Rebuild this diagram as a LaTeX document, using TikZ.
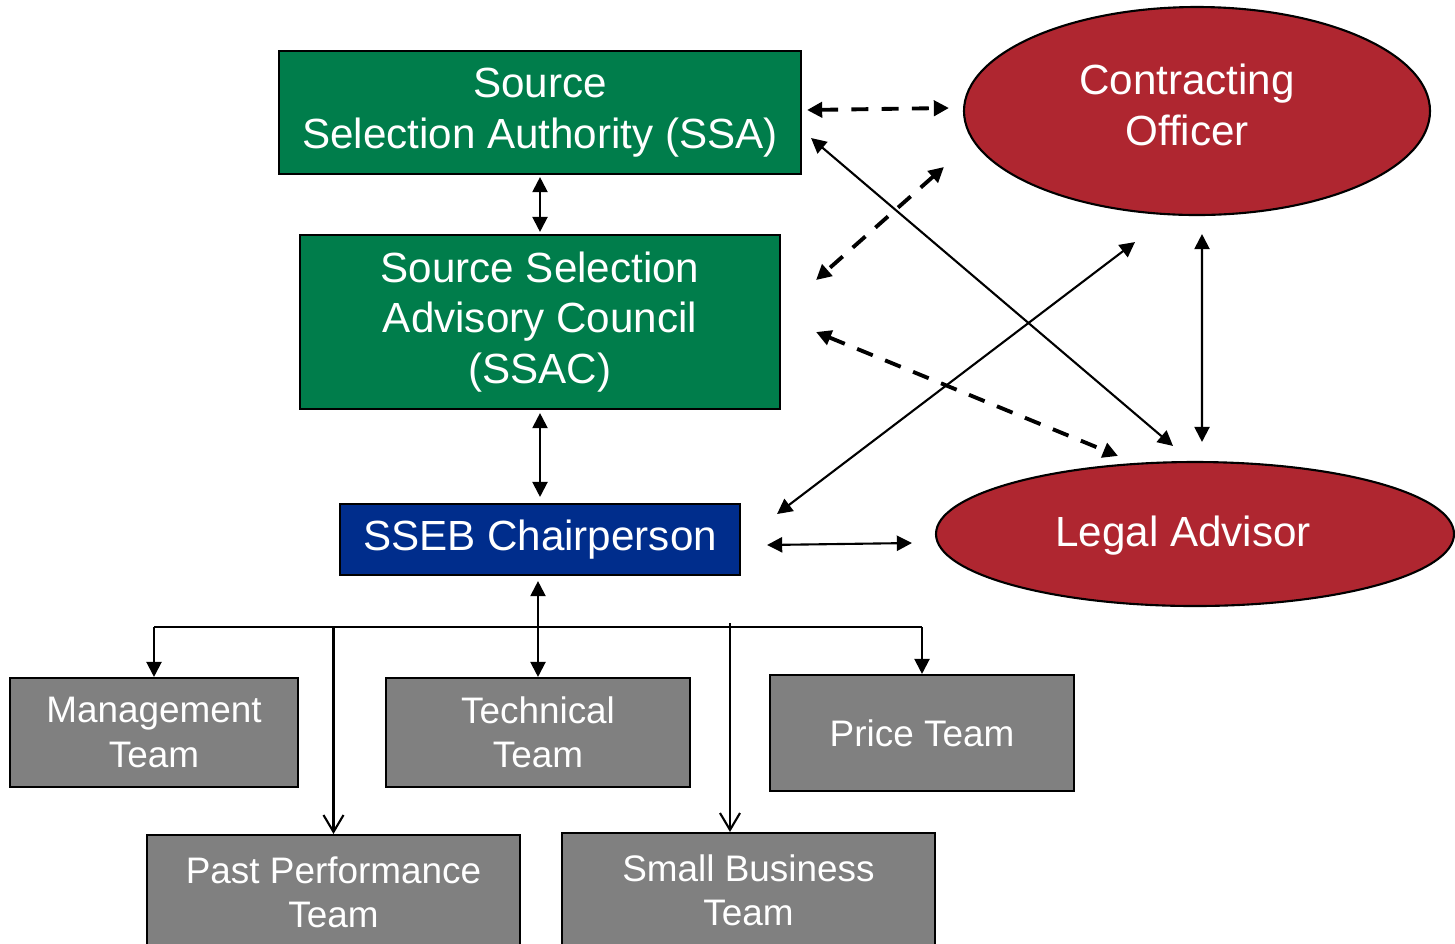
\documentclass[tikz,border=0pt]{standalone}
\usepackage{fontspec}
\setmainfont{Liberation Sans}
\usetikzlibrary{arrows.meta,shapes.geometric}
\definecolor{ssagreen}{RGB}{0,125,75}
\definecolor{chairblue}{RGB}{0,45,140}
\definecolor{partyred}{RGB}{175,38,48}
\definecolor{teamgray}{RGB}{128,128,128}

\begin{document}
\begin{tikzpicture}[>={Triangle[length=4.3pt,width=4.3pt]},
  box/.style={draw=black,semithick,text=white,align=center,inner sep=0pt},
  bigbox/.style={box,fill=ssagreen,font=\fontsize{12}{14.4}\selectfont},
  team/.style={box,fill=teamgray,font=\fontsize{10.5}{12.6}\selectfont},
  party/.style={ellipse,draw=black,semithick,fill=partyred,inner sep=0pt},
  partytext/.style={text=white,align=center,inner sep=0pt,font=\fontsize{12}{14.4}\selectfont},
  link/.style={<->,semithick},
  dlink/.style={<->,line width=1.1pt,dash pattern=on 4.8pt off 3.8pt},
  barb/.style={-{Straight Barb[length=4.8pt,width=5.7pt]},semithick}]
  \useasboundingbox (0,0) rectangle (14.55,-9.43);

  \node[bigbox,minimum width=5.22cm,minimum height=1.23cm] (ssa) at (5.40,-1.125) {Source\\Selection Authority (SSA)};
  \node[bigbox,minimum width=4.80cm,minimum height=1.74cm] (ssac) at (5.40,-3.22) {Source Selection\\Advisory Council\\(SSAC)};
  \node[bigbox,fill=chairblue,minimum width=4.00cm,minimum height=0.71cm] (sseb) at (5.40,-5.395) {SSEB Chairperson};
  \node[party,minimum width=4.66cm,minimum height=2.08cm,
    label={[partytext,xshift=-0.1cm,yshift=0.06cm]center:Contracting\\Officer}] (co) at (11.97,-1.11) {};
  \node[party,minimum width=5.18cm,minimum height=1.44cm,
    label={[partytext,xshift=-0.12cm,yshift=-0.02cm]center:Legal Advisor}] (la) at (11.95,-5.34) {};

  \node[team,minimum width=2.88cm,minimum height=1.09cm] (mgmt) at (1.54,-7.325) {Management\\Team};
  \node[team,minimum width=3.04cm,minimum height=1.09cm] (tech) at (5.38,-7.325) {Technical\\Team};
  \node[team,minimum width=3.04cm,minimum height=1.16cm] (price) at (9.22,-7.33) {Price Team};
  \node[team,minimum width=3.73cm,minimum height=1.15cm] (past) at (3.335,-8.925) {Past Performance\\Team};
  \node[team,minimum width=3.73cm,minimum height=1.15cm] (small) at (7.485,-8.905) {Small Business\\Team};

  % chain of command
  \draw[link,shorten <=0.02cm,shorten >=0.02cm] (ssa.south) -- (ssac.north);
  \draw[link,shorten <=0.03cm,shorten >=0.06cm] (ssac.south) -- (sseb.north);
  \draw[link,shorten <=0.05cm] (sseb.south -| tech.north) -- (tech.north);

  % evaluation teams off the bus
  \coordinate (bus) at (5.38,-6.27);
  \coordinate (sbtop) at ([xshift=-0.185cm]small.north);
  \draw[semithick] (mgmt.north |- bus) -- (price.north |- bus);
  \draw[->,semithick] (mgmt.north |- bus) -- (mgmt.north);
  \draw[->,semithick] (price.north |- bus) -- (price.north);
  \draw[barb] (past.north |- bus) -- (past.north);
  \draw[barb] ([yshift=0.04cm]sbtop |- bus) -- (sbtop);

  % advisors
  \draw[dlink] ([shift={(0.05,0.025)}]ssa.east) -- ([shift={(-0.14,0.03)}]co.west);
  \draw[dlink] ([shift={(-0.19,-0.56)}]co.west) -- ([shift={(0.35,0.42)}]ssac.east);
  \draw[dlink] ([shift={(0.35,-0.10)}]ssac.east) -- ([shift={(-0.77,0.05)}]la.north);
  \draw[link] ([shift={(0.09,-0.255)}]ssa.east) -- ([shift={(-0.22,0.15)}]la.north);
  \draw[link] ([shift={(0.36,0.255)}]sseb.east) -- ([shift={(-0.62,-0.26)}]co.south);
  \draw[link] ([shift={(0.05,-0.18)}]co.south) -- ([shift={(0.07,0.19)}]la.north);
  \draw[link] ([shift={(0.26,-0.055)}]sseb.east) -- ([shift={(-0.23,-0.09)}]la.west);
\end{tikzpicture}
\end{document}
